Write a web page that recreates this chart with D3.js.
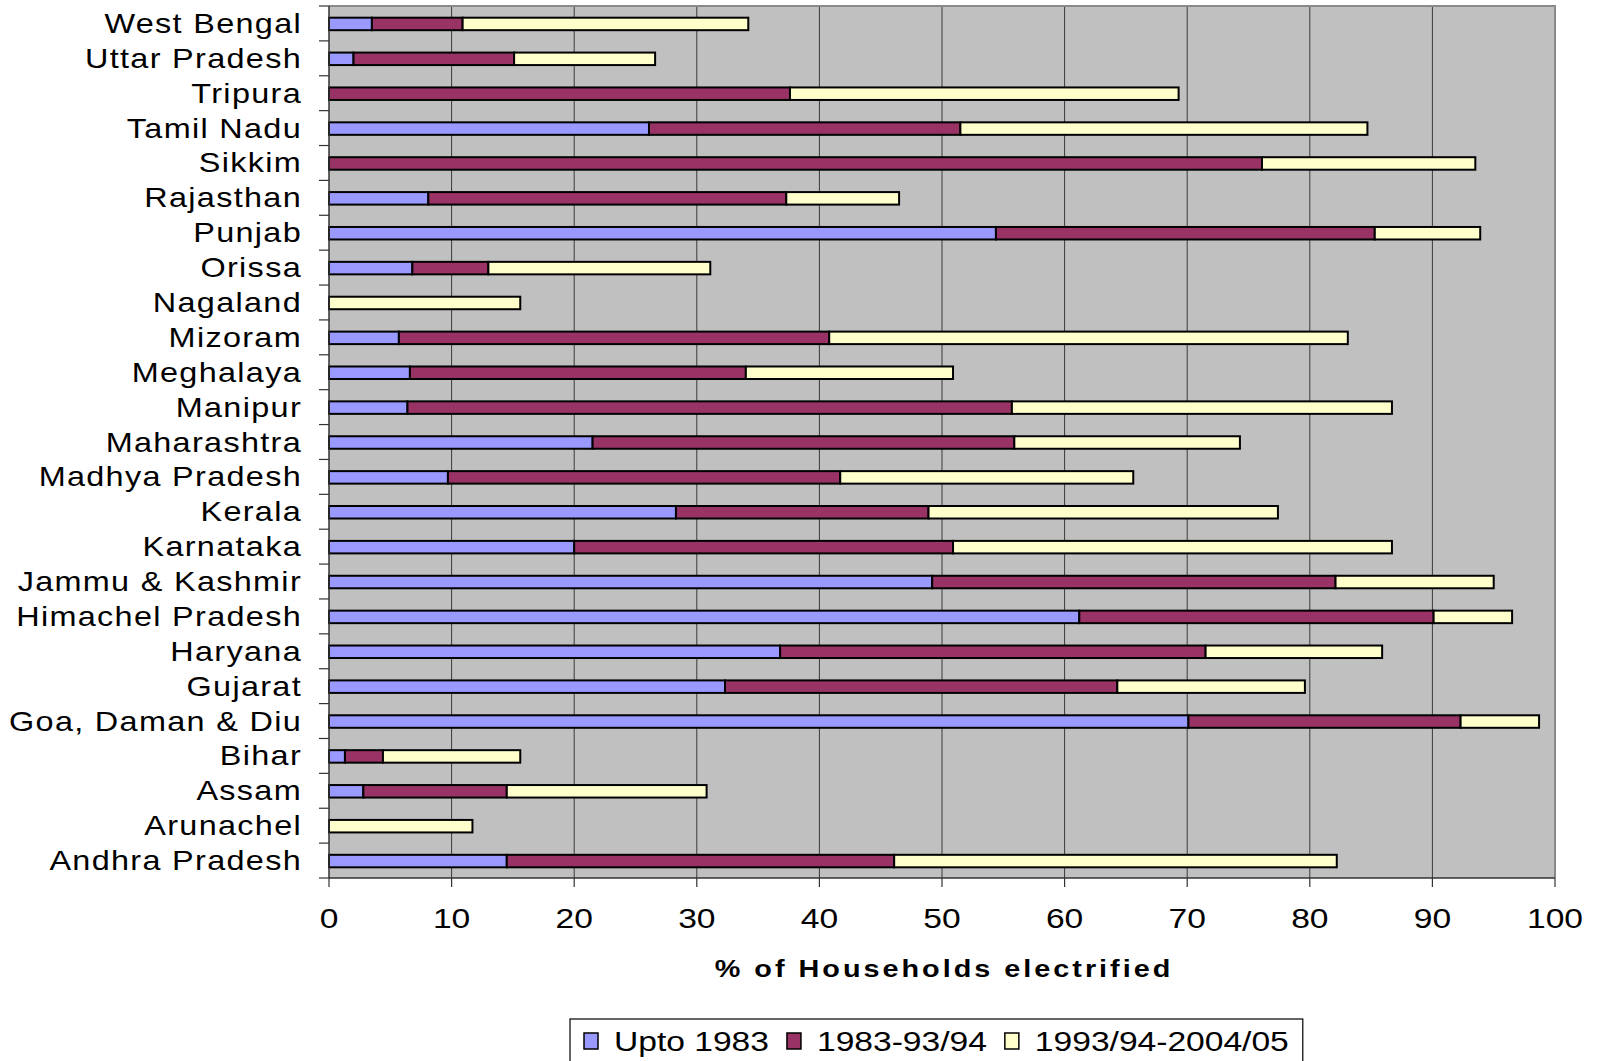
<!DOCTYPE html>
<html>
<head>
<meta charset="utf-8">
<script src="https://cdn.jsdelivr.net/npm/d3@7"></script>
<style>
  html, body { margin: 0; padding: 0; background: #fff; }
  svg { display: block; font-family: Arial, "Liberation Sans", sans-serif; }
</style>
</head>
<body>
<svg id="chart" width="1603" height="1061"></svg>
<script>
// ---- DATA (top-to-bottom order as displayed) ----
const categories = [
  "West Bengal", "Uttar Pradesh", "Tripura", "Tamil Nadu", "Sikkim",
  "Rajasthan", "Punjab", "Orissa", "Nagaland", "Mizoram",
  "Meghalaya", "Manipur", "Maharashtra", "Madhya Pradesh", "Kerala",
  "Karnataka", "Jammu & Kashmir", "Himachel Pradesh", "Haryana", "Gujarat",
  "Goa, Daman & Diu", "Bihar", "Assam", "Arunachel", "Andhra Pradesh"
];
const upto1983 = [
  3.5, 2.0, 0, 26.1, 0,
  8.1, 54.4, 6.8, 0, 5.7,
  6.6, 6.4, 21.5, 9.7, 28.3,
  20.0, 49.2, 61.2, 36.8, 32.3,
  70.1, 1.3, 2.8, 0, 14.5
];
const from1983to1994 = [
  7.4, 13.1, 37.6, 25.4, 76.1,
  29.2, 30.9, 6.2, 0, 35.1,
  27.4, 49.3, 34.4, 32.0, 20.6,
  30.9, 32.9, 28.9, 34.7, 32.0,
  22.2, 3.1, 11.7, 0, 31.6
];
const from1994to2005 = [
  23.3, 11.5, 31.7, 33.2, 17.4,
  9.2, 8.6, 18.1, 15.6, 42.3,
  16.9, 31.0, 18.4, 23.9, 28.5,
  35.8, 12.9, 6.4, 14.4, 15.3,
  6.4, 11.2, 16.3, 11.7, 36.1
];
const seriesNames = ["Upto 1983", "1983-93/94", "1993/94-2004/05"];
const seriesColors = ["#9999FF", "#993366", "#FFFFCC"];
const xTickValues = [0, 10, 20, 30, 40, 50, 60, 70, 80, 90, 100];
const xAxisTitle = "% of Households electrified";

// ---- BUILD ----
const svg = d3.select("#chart");
const W = 1603, H = 1061;
svg.append("rect").attr("width", W).attr("height", H).attr("fill", "#fff");

const plotLeft = 329, plotRight = 1555, plotTop = 6, plotBottom = 878;
const x = d3.scaleLinear().domain([0, 100]).range([plotLeft, plotRight]);
const y = d3.scaleBand().domain(categories).range([plotTop, plotBottom]);

const SX = 1.2; // horizontal stretch of text, as in the reference

// plot background
svg.append("rect")
  .attr("x", x(0)).attr("y", plotTop)
  .attr("width", x(100) - x(0)).attr("height", plotBottom - plotTop)
  .attr("fill", "#C0C0C0");

// vertical grid lines
svg.append("g").selectAll("line")
  .data(xTickValues.filter(d => d > 0 && d < 100))
  .join("line")
  .attr("x1", d => x(d)).attr("x2", d => x(d))
  .attr("y1", plotTop).attr("y2", plotBottom)
  .attr("stroke", "#3a3a3a").attr("stroke-width", 1);

// top and right border
svg.append("path")
  .attr("d", `M${x(0)},${plotTop}H${x(100)}V${plotBottom}`)
  .attr("fill", "none").attr("stroke", "#8a8a8a").attr("stroke-width", 2);

// stacked bars
const rows = categories.map((c, i) => ({
  cat: c, s0: upto1983[i], s1: from1983to1994[i], s2: from1994to2005[i]
}));
const stack = d3.stack().keys(["s0", "s1", "s2"]);
const stacked = stack(rows);
const barH = 12.5;

svg.append("g").selectAll("g")
  .data(stacked)
  .join("g")
  .attr("fill", (d, i) => seriesColors[i])
  .selectAll("rect")
  .data(d => d.filter(p => p[1] - p[0] > 0))
  .join("rect")
  .attr("x", p => x(p[0]))
  .attr("width", p => x(p[1]) - x(p[0]))
  .attr("y", p => y(p.data.cat) + y.bandwidth() / 2 - barH / 2 + 0.5)
  .attr("height", barH)
  .attr("stroke", "#000").attr("stroke-width", 2);

// x axis
const xAxisG = svg.append("g").attr("transform", `translate(0,${plotBottom})`);
xAxisG.append("line")
  .attr("x1", x(0)).attr("x2", x(100)).attr("y1", 0).attr("y2", 0)
  .attr("stroke", "#333").attr("stroke-width", 1.5);
xAxisG.selectAll("line.tick")
  .data(xTickValues).join("line").attr("class", "tick")
  .attr("x1", d => x(d)).attr("x2", d => x(d))
  .attr("y1", 0).attr("y2", 9)
  .attr("stroke", "#333").attr("stroke-width", 1.2);
xAxisG.selectAll("text")
  .data(xTickValues).join("text")
  .attr("transform", d => `translate(${x(d)},50) scale(${SX},1)`)
  .attr("text-anchor", "middle")
  .attr("font-size", 28)
  .attr("fill", "#000")
  .text(d => d);

// y axis
const yAxisG = svg.append("g");
yAxisG.append("line")
  .attr("x1", plotLeft).attr("x2", plotLeft)
  .attr("y1", plotTop).attr("y2", plotBottom)
  .attr("stroke", "#333").attr("stroke-width", 1.5);
const boundaries = categories.map(c => y(c)).concat([plotBottom]);
yAxisG.selectAll("line.tick")
  .data(boundaries).join("line").attr("class", "tick")
  .attr("x1", plotLeft - 10).attr("x2", plotLeft)
  .attr("y1", d => d).attr("y2", d => d)
  .attr("stroke", "#333").attr("stroke-width", 1.2);
yAxisG.selectAll("text")
  .data(categories).join("text")
  .attr("transform", c => `translate(302,${y(c) + y.bandwidth() / 2 + 9.5}) scale(${SX},1)`)
  .attr("text-anchor", "end")
  .attr("font-size", 27)
  .attr("letter-spacing", 1.1)
  .attr("fill", "#000")
  .text(c => c);

// x axis title
svg.append("text")
  .attr("transform", `translate(${(plotLeft + plotRight) / 2 + 2},977) scale(${SX},1)`)
  .attr("text-anchor", "middle")
  .attr("font-size", 24)
  .attr("font-weight", "bold")
  .attr("letter-spacing", 2.5)
  .attr("fill", "#000")
  .text(xAxisTitle);

// legend
const legend = svg.append("g");
const legBox = legend.append("rect")
  .attr("fill", "#fff").attr("stroke", "#000").attr("stroke-width", 1.2);
let cx = 584;
seriesNames.forEach((name, i) => {
  const g = legend.append("g");
  g.append("rect")
    .attr("x", cx).attr("y", 1033).attr("width", 14).attr("height", 16)
    .attr("fill", seriesColors[i]).attr("stroke", "#000").attr("stroke-width", 1.5);
  const t = g.append("text")
    .attr("transform", `translate(${cx + 30},1051) scale(${SX},1)`)
    .attr("font-size", 28).attr("fill", "#000")
    .text(name);
  const w = t.node().getComputedTextLength() * SX;
  cx = cx + 30 + w + 18;
});
legBox.attr("x", 570).attr("y", 1019).attr("width", (cx - 18 + 14) - 570).attr("height", 60);
</script>
</body>
</html>
